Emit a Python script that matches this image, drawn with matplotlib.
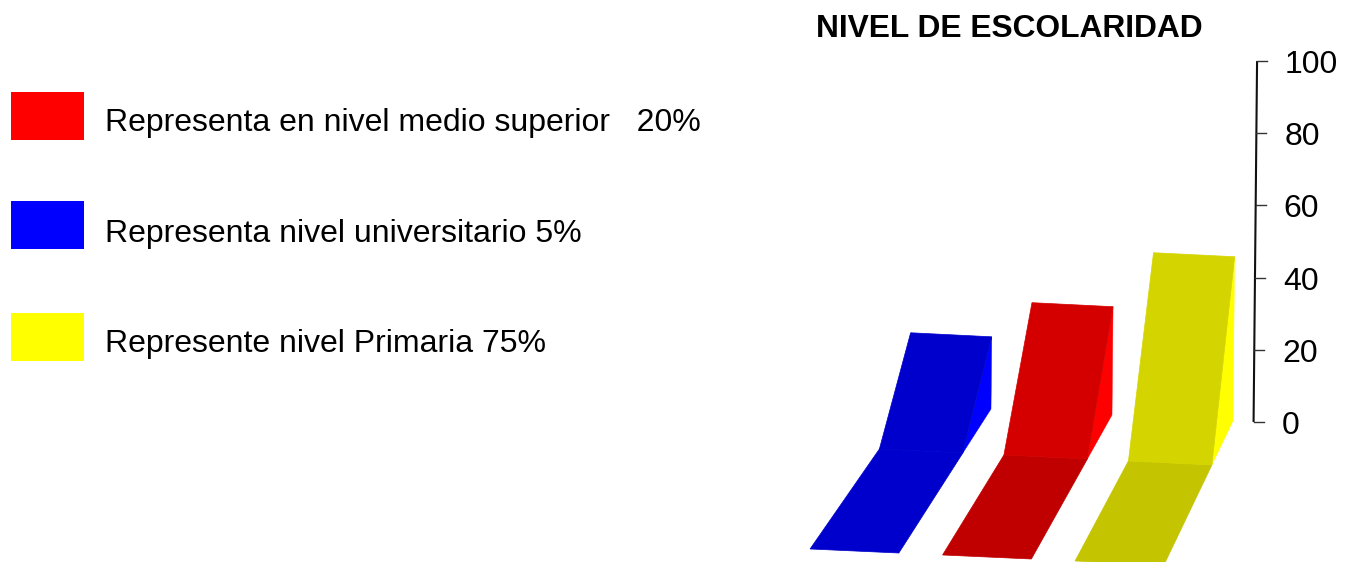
import matplotlib
matplotlib.use('Agg')
import matplotlib.pyplot as plt
from matplotlib.patches import Polygon, Rectangle

plt.rcParams['font.family'] = ['Liberation Sans', 'DejaVu Sans']

# bars, left to right, heights read against the 0-100 axis
levels = ['universitario', 'medio superior', 'primaria']
heights = [20, 30, 45.5]
upper_colors = ['#0000cc', '#d40000', '#d4d400']
lower_colors = ['#0000cc', '#c00000', '#c4c400']
side_colors = ['#0000ff', '#ff0000', '#ffff00']

z_ticks = [0, 20, 40, 60, 80, 100]
title = 'NIVEL DE ESCOLARIDAD'
legend_labels = ['Representa en nivel medio superior   20%',
                 'Representa nivel universitario 5%',
                 'Represente nivel Primaria 75%']
legend_colors = ['#ff0000', '#0000ff', '#ffff00']
legend_box_y = [92, 201, 313]
legend_text_y = [123, 234, 344]

bar_w = 0.67
depth_kink = 1.0
depth_back = 1.44


def project(u, d, z):
    # u = position along the bars, d = depth from the front, z = axis value
    # the slant of the depth lines changes a bit with u (perspective)
    sx = 991 + 121 * u + (d - depth_back) * (64 - 8 * u) + 0.035 * z
    sy = 409 + 6 * u + (depth_back - d) * 100 - 3.61 * z
    return sx, sy


fig = plt.figure(figsize=(13.54, 5.62), dpi=100)
ax = fig.add_axes([0, 0, 1, 1])
ax.set_xlim(0, 1354)
ax.set_ylim(562, 0)
ax.axis('off')

for i in range(len(levels)):
    h = heights[i]
    right = i
    left = i - bar_w
    side = [project(right, depth_back, 0), project(right, depth_back, h), project(right, depth_kink, 0)]
    upper = [project(left, depth_kink, 0), project(left, depth_back, h),
             project(right, depth_back, h), project(right, depth_kink, 0)]
    lower = [project(left, 0, 0), project(left, depth_kink, 0),
             project(right, depth_kink, 0), project(right, 0, 0)]
    ax.add_patch(Polygon(side, closed=True, fc=side_colors[i], ec=side_colors[i], lw=0.3))
    ax.add_patch(Polygon(lower, closed=True, fc=lower_colors[i], ec=lower_colors[i], lw=0.5))
    ax.add_patch(Polygon(upper, closed=True, fc=upper_colors[i], ec=upper_colors[i], lw=0.5))

# z axis
axis_u = 2.17
x0, y0 = project(axis_u, depth_back, z_ticks[0])
x1, y1 = project(axis_u, depth_back, z_ticks[-1])
ax.plot([x0, x1], [y0, y1], color='#111111', lw=1.5, solid_capstyle='butt')
for t in z_ticks:
    x, y = project(axis_u, depth_back, t)
    ax.plot([x, x + 10], [y, y], color='#333333', lw=1.0)
    ax.text(x + 28, y + 4, str(t), fontsize=23, ha='left', va='center', color='black')

ax.text(1009, 29, title, fontsize=22.9, fontweight='bold', ha='center', va='center', color='black')

for i in range(len(legend_labels)):
    ax.add_patch(Rectangle((11, legend_box_y[i]), 73, 48, fc=legend_colors[i], ec='none'))
    ax.text(105, legend_text_y[i], legend_labels[i], fontsize=23, ha='left', va='center', color='black')

fig.savefig('out.png', dpi=100)
